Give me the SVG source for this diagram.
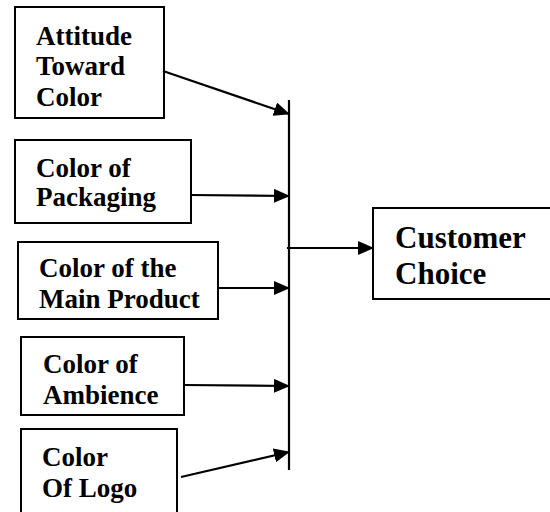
<svg xmlns="http://www.w3.org/2000/svg" width="550" height="512" viewBox="0 0 550 512">
<style>
rect.n{fill:#fff;stroke:#000;stroke-width:2}
.c line{stroke:#000;stroke-width:2.2}
</style>
<defs>
<marker id="ah" markerUnits="userSpaceOnUse" markerWidth="16" markerHeight="14" refX="15" refY="7" orient="auto">
<path d="M0,0 L16,7 L0,14 Z" fill="#000"/>
</marker>
</defs>
<rect width="550" height="512" fill="#fff"/>
<g font-family="Liberation Serif, Times New Roman, DejaVu Serif, serif" font-weight="700" font-size="27" fill="#000">
<g id="n1"><rect class="n" x="15" y="7" width="149" height="111"/>
<text x="36" y="45">Attitude</text><text x="36" y="75">Toward</text><text x="36" y="106">Color</text></g>
<g id="n2"><rect class="n" x="15" y="140" width="176" height="83"/>
<text x="36" y="177">Color of</text><text x="36" y="206">Packaging</text></g>
<g id="n3"><rect class="n" x="18" y="242" width="200" height="77"/>
<text x="39" y="277">Color of the</text><text x="39" y="308">Main Product</text></g>
<g id="n4"><rect class="n" x="21" y="337" width="163" height="78"/>
<text x="43" y="373">Color of</text><text x="43" y="404">Ambience</text></g>
<g id="n5"><rect class="n" x="21" y="429" width="156" height="90"/>
<text x="42" y="466">Color</text><text x="42" y="497">Of Logo</text></g>
<g id="n6"><rect class="n" x="373" y="208" width="182" height="91"/>
<text font-size="31" x="395" y="248">Customer</text><text font-size="31" x="395" y="284">Choice</text></g>
</g>
<g id="connectors" class="c">
<line x1="289" y1="100" x2="289" y2="470"/>
<line x1="163" y1="71" x2="289" y2="114" marker-end="url(#ah)"/>
<line x1="190" y1="195" x2="289" y2="196" marker-end="url(#ah)"/>
<line x1="219" y1="288" x2="289" y2="288" marker-end="url(#ah)"/>
<line x1="184" y1="385" x2="289" y2="386" marker-end="url(#ah)"/>
<line x1="181" y1="477" x2="289" y2="452" marker-end="url(#ah)"/>
<line x1="287" y1="248" x2="373" y2="248" marker-end="url(#ah)"/>
</g>
</svg>
